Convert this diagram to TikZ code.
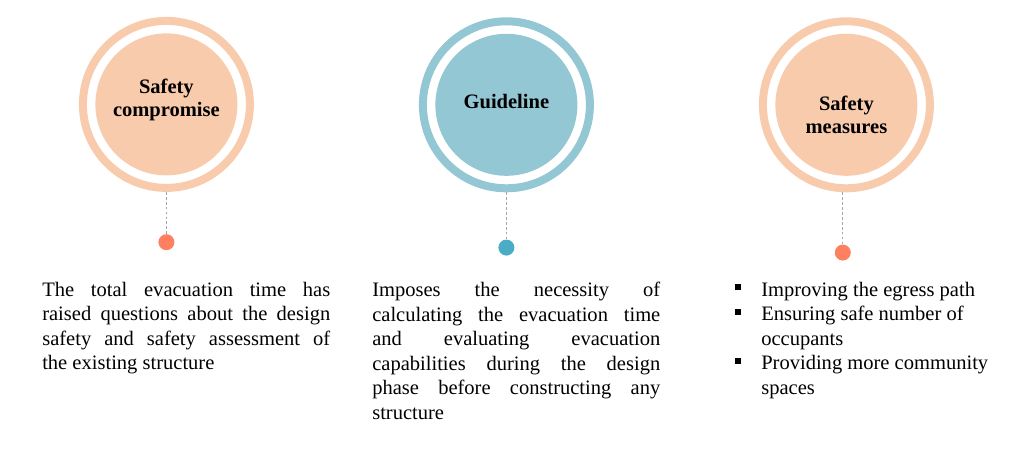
\documentclass[tikz,border=0pt]{standalone}
\usepackage{fontspec}
\setmainfont{Liberation Serif}
\usetikzlibrary{positioning}
\definecolor{peachfill}{RGB}{248,203,173}
\definecolor{tealfill}{RGB}{146,199,211}
\definecolor{dotorange}{RGB}{255,127,97}
\definecolor{dotteal}{RGB}{75,172,198}
\setlength{\parindent}{0pt}
\tolerance=10000
\hbadness=10000
\newcommand{\sqbullet}{\makebox[18.5pt][l]{\rule[4.3pt]{4.3pt}{4.3pt}}}

\begin{document}
\begin{tikzpicture}[
        % Style for the outer rings
        ringNode/.style={
            circle,
            draw=#1,
            line width=0.2cm,
            minimum size=4.175cm,
            inner sep=0pt
        },
        % Style for the filled discs
        coreNode/.style={
            circle,
            fill=#1,
            minimum size=3.55cm,
            inner sep=0pt
        },
        % Style for the titles
        titleText/.style={
            align=center,
            inner sep=0pt,
            font=\fontsize{14.6}{16.4}\selectfont\bfseries
        },
        % Small dots
        dotNode/.style={
            circle,
            fill=#1,
            minimum size=0.4cm,
            inner sep=0pt
        },
        % Dashed link
        link/.style={
            draw=gray!70,
            line width=0.6pt,
            dash pattern=on 2pt off 1.5pt
        },
        % Text below
        bodyText/.style={
            anchor=north west,
            inner sep=0pt,
            text width=7.2cm,
            align=justify,
            font=\fontsize{14.6}{17.4}\selectfont
        }
    ]

    \useasboundingbox (0,0) rectangle (25.6,-11.225);

    % Rings and discs
    \node[ringNode=peachfill] (R1) at (4.16,-2.61) {};
    \node[coreNode=peachfill] (C1) at (R1) {};
    \node[ringNode=tealfill] (R2) at (12.66,-2.62) {};
    \node[coreNode=tealfill] (C2) at (R2) {};
    \node[ringNode=peachfill] (R3) at (21.16,-2.62) {};
    \node[coreNode=peachfill] (C3) at (R3) {};

    % Titles
    \node[titleText] (T1) at ([yshift=0.11cm]C1) {Safety\\compromise};
    \node[titleText] (T2) at ([yshift=0.075cm]C2) {Guideline};
    \node[titleText] (T3) at ([yshift=-0.25cm]C3) {Safety\\measures};

    % Dots
    \node[dotNode=dotorange] (D1) [below=1.05cm of R1] {};
    \node[dotNode=dotteal] (D2) [below=1.175cm of R2] {};
    \node[dotNode=dotorange] (D3) [below=1.3cm of R3, xshift=-0.09cm] {};

    % Dashed links
    \draw[link] (R1.south) -- (D1.north);
    \draw[link] (R2.south) -- (D2.north);
    \draw[link] (D3 |- R3.south) -- (D3.north);

    % Texts
    \node[bodyText] (B1) at (1.05,-7.05) {
        The total evacuation time has\linebreak
        raised questions about the design\linebreak
        safety and safety assessment of\linebreak
        the existing structure
    };

    \node[bodyText] (B2) at (9.3,-7.05) {
        Imposes the necessity of\linebreak
        calculating the evacuation time\linebreak
        and evaluating evacuation\linebreak
        capabilities during the design\linebreak
        phase before constructing any\linebreak
        structure
    };

    \node[anchor=north west, inner sep=0pt, align=left,
          font=\fontsize{14.6}{17.4}\selectfont] (B3) at (18.375,-7.05) {
        \sqbullet Improving the egress path\\
        \sqbullet Ensuring safe number of\\
        \hspace*{18.5pt}occupants\\
        \sqbullet Providing more community\\
        \hspace*{18.5pt}spaces
    };

    \end{tikzpicture}
\end{document}
